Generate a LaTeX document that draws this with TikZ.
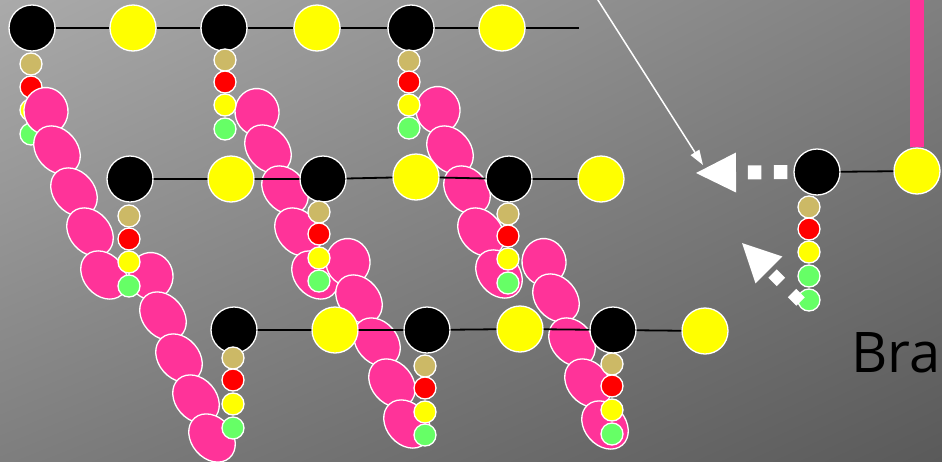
\documentclass[tikz,border=0pt]{standalone}
\usepackage{fontspec}
\setmainfont{Open Sans}
\usetikzlibrary{shapes.geometric,arrows.meta,shadings}
\definecolor{pinkc}{RGB}{255,51,153}
\definecolor{yellowc}{RGB}{255,255,0}
\definecolor{tanc}{RGB}{204,185,102}
\definecolor{redc}{RGB}{255,0,0}
\definecolor{greenc}{RGB}{102,255,102}
\definecolor{bgul}{RGB}{170,170,170}
\definecolor{bgur}{RGB}{128,128,128}
\definecolor{bgll}{RGB}{126,126,126}
\definecolor{bglr}{RGB}{90,90,90}
\begin{document}
\begin{tikzpicture}[x=1pt,y=-1pt,
  bead/.style={circle,draw=white,line width=1.3pt,inner sep=0pt},
  blk/.style={bead,fill=black,minimum size=46pt},
  ylw/.style={bead,fill=yellowc,minimum size=46pt},
  sm/.style={bead,minimum size=22pt},
  seg/.style={ellipse,draw=white,line width=1.3pt,fill=pinkc,inner sep=0pt,minimum width=53pt,minimum height=41pt,rotate=-49},
  segr/.style={seg,minimum width=47pt,minimum height=44pt,rotate=-35},
  bond/.style={draw=black,line width=1.8pt},
  wdash/.style={draw=white,line width=14pt},
  lbl/.style={anchor=base west,inner sep=0pt,text=black,font=\fontsize{56}{60}\selectfont}
]
\useasboundingbox (0,0) rectangle (942,461);
\clip (0,0) rectangle (942,461);
\shade[upper left=bgul,upper right=bgur,lower left=bgll,lower right=bglr] (0,0) rectangle (942,461);

% chains B and C (under everything)
\node[segr] (B1) at (257,112) {};
\node[seg] (B2) at (268,149) {};
\node[seg] (B3) at (285,190) {};
\node[seg] (B4) at (298,232) {};
\node[seg] (B5) at (315,275) {};
\node[segr] (B6) at (348,262) {};
\node[seg] (B7) at (359,299) {};
\node[seg] (B8) at (377,342) {};
\node[seg] (B9) at (392,383) {};
\node[seg] (B10) at (407,424) {};

\node[segr] (C1) at (438,110) {};
\node[seg] (C2) at (450,150) {};
\node[seg] (C3) at (467,190) {};
\node[seg] (C4) at (481,232) {};
\node[seg] (C5) at (499,274) {};
\node[segr] (C6) at (544,262) {};
\node[seg] (C7) at (556,298) {};
\node[seg] (C8) at (572,342) {};
\node[seg] (C9) at (588,383) {};
\node[seg] (C10) at (605,425) {};

% row 1
\node[blk] (p11) at (32,28) {};
\node[ylw] (q11) at (133,28) {};
\node[blk] (p12) at (224,28) {};
\node[ylw] (q12) at (317,28) {};
\node[blk] (p13) at (411,28) {};
\node[ylw] (q13) at (502,28) {};
\coordinate (end1) at (579,28);
\foreach \n/\x/\a/\b/\c/\d in {s11/31/64/87/110/134, s12/225/60/82/105/129, s13/409/61/82/105/128}{
  \node[sm,fill=tanc] (\n-1) at (\x,\a) {};
  \node[sm,fill=redc] (\n-2) at (\x,\b) {};
  \node[sm,fill=yellowc] (\n-3) at (\x,\c) {};
  \node[sm,fill=greenc] (\n-4) at (\x,\d) {};
}
\draw[bond] (p11) -- (q11) (q11) -- (p12) (p12) -- (q12) (q12) -- (p13) (p13) -- (q13) (q13) -- (end1);

% chain A (over row 1 side chain)
\node[segr] (A1) at (46,111) {};
\node[seg] (A2) at (57,150) {};
\node[seg] (A3) at (74,192) {};
\node[seg] (A4) at (90,232) {};
\node[seg] (A5) at (104,275) {};
\node[segr] (A6) at (151,276) {};
\node[seg] (A7) at (163,316) {};
\node[seg] (A8) at (179,358) {};
\node[seg] (A9) at (196,399) {};
\node[seg] (A10) at (212,438) {};

% row 2
\node[blk] (p21) at (130,179) {};
\node[ylw] (q21) at (231,179) {};
\node[blk] (p22) at (323,179) {};
\node[ylw] (q22) at (416,177) {};
\node[blk] (p23) at (509,179) {};
\node[ylw] (q23) at (601,179) {};
\foreach \n/\x/\a/\b/\c/\d in {s21/129/216/239/262/286, s22/319/212/234/258/281, s23/508/214/236/259/283}{
  \node[sm,fill=tanc] (\n-1) at (\x,\a) {};
  \node[sm,fill=redc] (\n-2) at (\x,\b) {};
  \node[sm,fill=yellowc] (\n-3) at (\x,\c) {};
  \node[sm,fill=greenc] (\n-4) at (\x,\d) {};
}
\draw[bond] (p21) -- (q21) (q21) -- (p22) (p22) -- (q22) (q22) -- (p23) (p23) -- (q23);

% row 3
\node[blk] (p31) at (234,330) {};
\node[ylw] (q31) at (335,330) {};
\node[blk] (p32) at (427,330) {};
\node[ylw] (q32) at (520,329) {};
\node[blk] (p33) at (613,330) {};
\node[ylw] (q33) at (705,331) {};
\foreach \n/\x/\a/\b/\c/\d in {s31/233/358/380/404/428, s32/425/366/388/412/435, s33/612/364/386/410/434}{
  \node[sm,fill=tanc] (\n-1) at (\x,\a) {};
  \node[sm,fill=redc] (\n-2) at (\x,\b) {};
  \node[sm,fill=yellowc] (\n-3) at (\x,\c) {};
  \node[sm,fill=greenc] (\n-4) at (\x,\d) {};
}
\draw[bond] (p31) -- (q31) (q31) -- (p32) (p32) -- (q32) (q32) -- (p33) (p33) -- (q33);

% right-hand unit
\node[blk] (pR) at (817,172) {};
\node[ylw] (qR) at (917,171) {};
\coordinate (barTop) at (917,-5);
\draw[draw=pinkc,line width=14pt] (qR.north) -- (barTop);
\draw[bond] (pR) -- (qR);
\node[sm,fill=tanc] (sR-1) at (809,207) {};
\node[sm,fill=redc] (sR-2) at (809,229) {};
\node[sm,fill=yellowc] (sR-3) at (809,252) {};
\node[sm,fill=greenc] (sR-4) at (809,276) {};
\node[sm,fill=greenc] (sR-5) at (809,300) {};

% arrows
\coordinate (tipL) at (696,173);
\draw[wdash,dash pattern=on 13.5pt off 12.5pt,dash phase=20pt,-{Triangle[length=40pt,width=40pt,line width=0pt]}] (pR.west) -- (tipL);
\coordinate (dStart) at (800.5,301.5);
\coordinate (tipD) at (742,243);
\draw[draw=white,line width=12pt,dash pattern=on 12pt off 15.6pt,-{Triangle[length=38pt,width=38pt,line width=0pt]}] (dStart) -- (tipD);
\coordinate (thinTop) at (596,-3);
\coordinate (thinTip) at (703,165);
\draw[draw=white,line width=1.5pt,-{Triangle[length=15pt,width=10pt]}] (thinTop) -- (thinTip);

% label
\node[lbl] (branched) at (851,372) {Branched};
\end{tikzpicture}
\end{document}
